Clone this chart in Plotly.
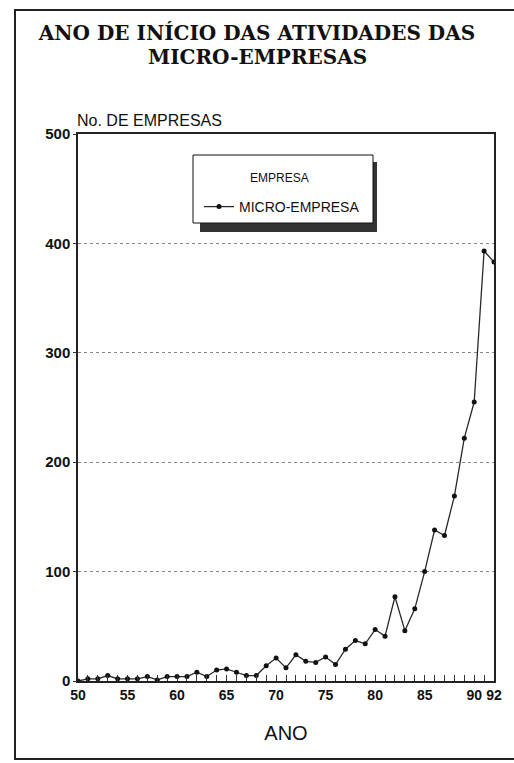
import plotly.graph_objects as go

years = list(range(50, 93))
micro_empresa = [0, 2, 2, 5, 2, 2, 2, 4, 1, 4,
                 4, 4, 8, 4, 10, 11, 8, 5, 5, 14,
                 21, 12, 24, 18, 17, 22, 15, 29, 37, 34,
                 47, 41, 77, 46, 66, 100, 138, 133, 169, 222,
                 255, 393, 383]
tick_labels = {50: "50", 55: "55", 60: "60", 65: "65", 70: "70",
               75: "75", 80: "80", 85: "85", 90: "90", 92: "92"}

W, H = 514, 763
L, R, T, B = 78, 20, 134, 82
pw, ph = W - L - R, H - T - B

def px(x):
    return (x - L) / pw

def py(y):
    return (H - B - y) / ph

fig = go.Figure()
fig.add_trace(go.Scatter(
    x=years, y=micro_empresa, mode="lines+markers", name="MICRO-EMPRESA",
    line=dict(color="#2a2a2a", width=1.3),
    marker=dict(color="#111111", size=5, symbol="circle"),
))

sans = "Liberation Sans, Arial, sans-serif"
serif = "DejaVu Serif, Liberation Serif, serif"
fig.update_layout(
    width=W, height=H,
    margin=dict(l=L, r=R, t=T, b=B),
    paper_bgcolor="white", plot_bgcolor="white",
    title=dict(text="<b>ANO DE INÍCIO DAS ATIVIDADES DAS</b>",
               x=0.5, xanchor="center", xref="container",
               y=1 - 33 / H, yanchor="middle",
               font=dict(family=serif, size=20, color="#111")),
    showlegend=True,
    legend=dict(
        x=px(199), y=py(207), xanchor="left", yanchor="middle",
        bgcolor="rgba(0,0,0,0)", borderwidth=0,
        font=dict(family=sans, size=14, color="#111"),
    ),
    xaxis=dict(
        range=[50, 92], tickvals=years,
        ticktext=[tick_labels.get(y, "") for y in years],
        ticks="inside", ticklen=6, tickcolor="#333", tickwidth=1,
        showline=True, linecolor="#222", linewidth=1.5, mirror=True,
        showgrid=False, zeroline=False,
        tickfont=dict(family=sans, size=14, color="#111", weight="bold"),
        title=dict(text="ANO", font=dict(family=sans, size=20, color="#111"), standoff=24),
    ),
    yaxis=dict(
        range=[0, 500], tickvals=[0, 100, 200, 300, 400, 500],
        ticks="outside", ticklen=3, tickcolor="#333",
        showline=True, linecolor="#222", linewidth=1.5, mirror=True,
        showgrid=True, gridcolor="#888", griddash="dot", gridwidth=1,
        zeroline=False,
        tickfont=dict(family=sans, size=15, color="#111", weight="bold"),
    ),
    shapes=[
        dict(type="rect", xref="paper", yref="paper",
             x0=px(200), x1=px(377), y0=py(232), y1=py(162),
             fillcolor="#333", line=dict(width=0), layer="above"),
        dict(type="rect", xref="paper", yref="paper",
             x0=px(193), x1=px(373), y0=py(223), y1=py(155),
             fillcolor="white", line=dict(color="#111", width=1), layer="above"),
        dict(type="rect", xref="paper", yref="paper",
             x0=px(15), x1=px(520), y0=py(759), y1=py(10),
             fillcolor="rgba(0,0,0,0)", line=dict(color="#222", width=2), layer="below"),
    ],
    annotations=[
        dict(text="<b>MICRO-EMPRESAS</b>", xref="paper", yref="paper",
             x=px(257), y=py(57), xanchor="center", yanchor="middle", showarrow=False,
             font=dict(family=serif, size=20, color="#111")),
        dict(text="No. DE EMPRESAS", xref="paper", yref="paper",
             x=px(75), y=py(120), xanchor="left", yanchor="middle", showarrow=False,
             font=dict(family=sans, size=16, color="#111")),
        dict(text="EMPRESA", xref="paper", yref="paper",
             x=px(279), y=py(178), xanchor="center", yanchor="middle", showarrow=False,
             font=dict(family=sans, size=12, color="#111")),
    ],
)

fig.write_html("out.html", config={"displayModeBar": False},
               post_script="document.body.style.margin='0';")
